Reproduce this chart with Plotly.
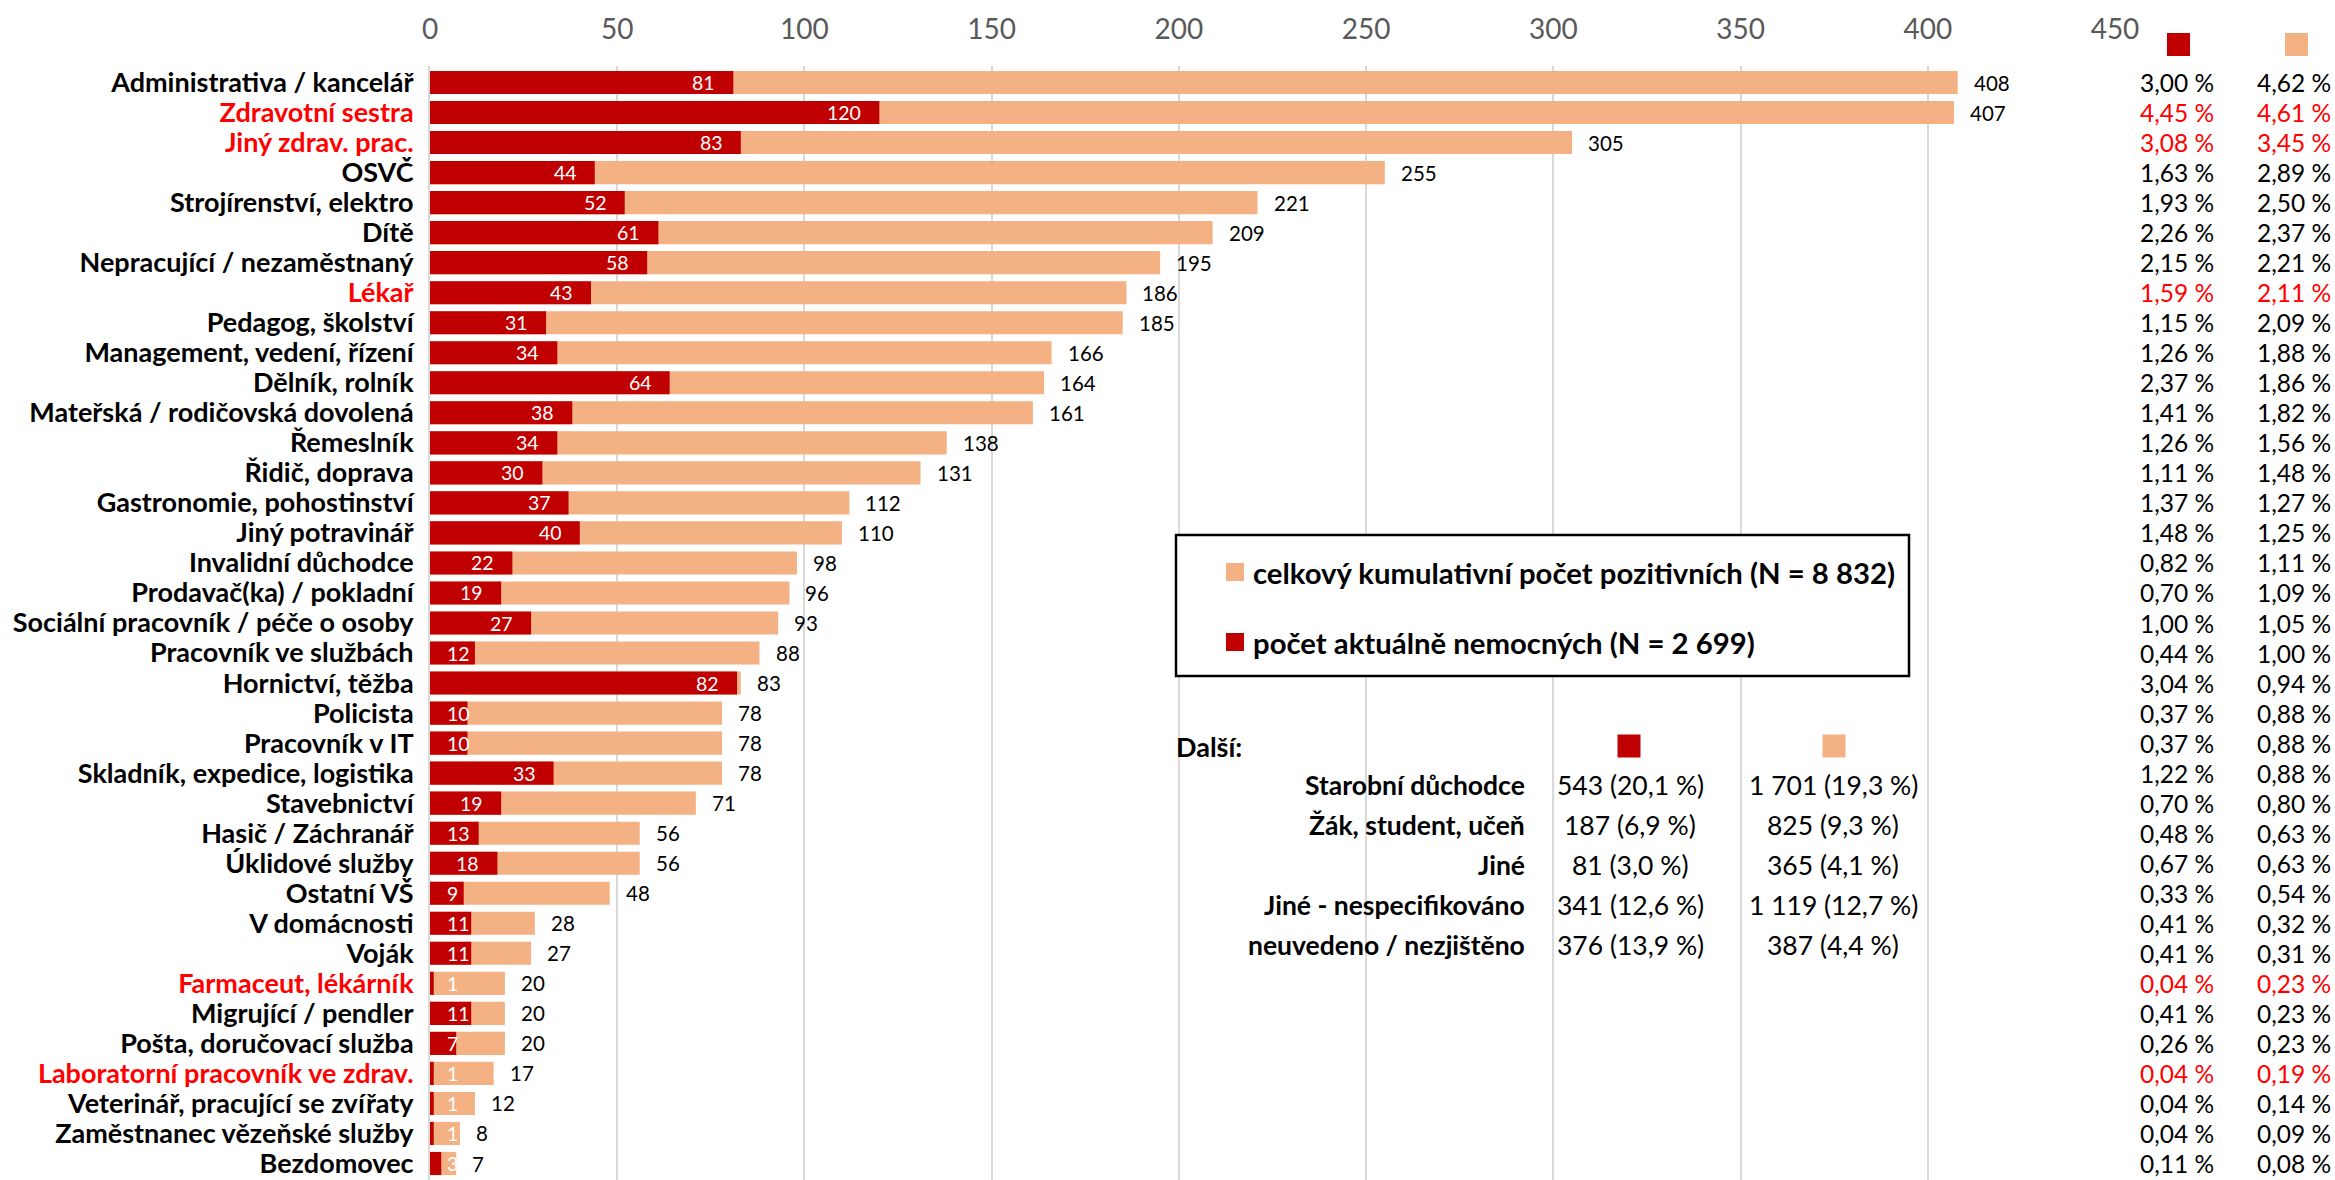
import plotly.graph_objects as go

# Occupation categories (top to bottom) with counts
categories = [
    "Administrativa / kancelář", "Zdravotní sestra", "Jiný zdrav. prac.", "OSVČ",
    "Strojírenství, elektro", "Dítě", "Nepracující / nezaměstnaný", "Lékař",
    "Pedagog, školství", "Management, vedení, řízení", "Dělník, rolník",
    "Mateřská / rodičovská dovolená", "Řemeslník", "Řidič, doprava",
    "Gastronomie, pohostinství", "Jiný potravinář", "Invalidní důchodce",
    "Prodavač(ka) / pokladní", "Sociální pracovník / péče o osoby",
    "Pracovník ve službách", "Hornictví, těžba", "Policista", "Pracovník v IT",
    "Skladník, expedice, logistika", "Stavebnictví", "Hasič / Záchranář",
    "Úklidové služby", "Ostatní VŠ", "V domácnosti", "Voják",
    "Farmaceut, lékárník", "Migrující / pendler", "Pošta, doručovací služba",
    "Laboratorní pracovník ve zdrav.", "Veterinář, pracující se zvířaty",
    "Zaměstnanec vězeňské služby", "Bezdomovec",
]
current_sick = [81, 120, 83, 44, 52, 61, 58, 43, 31, 34, 64, 38, 34, 30, 37, 40, 22,
                19, 27, 12, 82, 10, 10, 33, 19, 13, 18, 9, 11, 11, 1, 11, 7, 1, 1, 1, 3]
cumulative_positive = [408, 407, 305, 255, 221, 209, 195, 186, 185, 166, 164, 161, 138,
                       131, 112, 110, 98, 96, 93, 88, 83, 78, 78, 78, 71, 56, 56, 48, 28,
                       27, 20, 20, 20, 17, 12, 8, 7]
healthcare = {"Zdravotní sestra", "Jiný zdrav. prac.", "Lékař",
              "Farmaceut, lékárník", "Laboratorní pracovník ve zdrav."}

N_CURRENT = 2699
N_TOTAL = 8832

x_ticks = [0, 50, 100, 150, 200, 250, 300, 350, 400, 450]

# Additional groups shown in the side table
other_labels = ["Starobní důchodce", "Žák, student, učeň", "Jiné",
                "Jiné - nespecifikováno", "neuvedeno / nezjištěno"]
other_current = ["543 (20,1 %)", "187 (6,9 %)", "81 (3,0 %)", "341 (12,6 %)", "376 (13,9 %)"]
other_total = ["1 701 (19,3 %)", "825 (9,3 %)", "365 (4,1 %)", "1 119 (12,7 %)", "387 (4,4 %)"]

legend_total = "celkový kumulativní počet pozitivních (N = 8 832)"
legend_current = "počet aktuálně nemocných (N = 2 699)"

DARK_RED = "#C00000"
ORANGE = "#F4B183"
HIGHLIGHT = "#FF0000"
FONT = "Lato"

W, H = 2335, 1180
ML, MR, MT, MB = 430, 220, 66, 0
PW, PH = W - ML - MR, H - MT - MB
X_MAX = 450
PPU = PW / X_MAX  # pixels per data unit


def px(xp):
    return (xp - ML) / PW


def py(yp):
    return 1 - (yp - MT) / PH


fig = go.Figure()
fig.add_trace(go.Bar(
    y=categories, x=cumulative_positive, orientation="h",
    marker=dict(color=ORANGE, line=dict(width=0)), name=legend_total,
    showlegend=False, hoverinfo="x+y",
))
fig.add_trace(go.Bar(
    y=categories, x=current_sick, orientation="h",
    marker=dict(color=DARK_RED, line=dict(width=0)), name=legend_current,
    showlegend=False, hoverinfo="x+y",
))

ann = []
for cat, cur, tot in zip(categories, current_sick, cumulative_positive):
    # total value just past the end of the orange bar
    ann.append(dict(x=tot, y=cat, xref="x", yref="y", text=str(tot), showarrow=False,
                    xanchor="left", xshift=14, font=dict(family=FONT, size=20.5, color="black")))
    # current value inside the end of the red bar (kept off the axis when the bar is short)
    w = 11 * len(str(cur))
    if cur * PPU - 16 - w < 15:
        ann.append(dict(x=0, y=cat, xref="x", yref="y", text=str(cur), showarrow=False,
                        xanchor="left", xshift=15, font=dict(family=FONT, size=19.5, color="white")))
    else:
        ann.append(dict(x=cur, y=cat, xref="x", yref="y", text=str(cur), showarrow=False,
                        xanchor="right", xshift=-16, font=dict(family=FONT, size=19.5, color="white")))
    # share of each total, right-hand columns
    col = HIGHLIGHT if cat in healthcare else "black"
    pc = f"{100 * cur / N_CURRENT:.2f}".replace(".", ",") + " %"
    pt = f"{100 * tot / N_TOTAL:.2f}".replace(".", ",") + " %"
    ann.append(dict(x=px(2216), y=cat, xref="paper", yref="y", text=pc, showarrow=False,
                    xanchor="right", font=dict(family=FONT, size=24.5, color=col)))
    ann.append(dict(x=px(2333), y=cat, xref="paper", yref="y", text=pt, showarrow=False,
                    xanchor="right", font=dict(family=FONT, size=24.5, color=col)))

shapes = []


def square(cx, cy, s, color):
    shapes.append(dict(type="rect", xref="paper", yref="paper",
                       x0=px(cx - s / 2), x1=px(cx + s / 2),
                       y0=py(cy + s / 2), y1=py(cy - s / 2),
                       fillcolor=color, line=dict(width=0), layer="above"))


# column headers for the percentage columns
square(2178.5, 44.5, 23, DARK_RED)
square(2296.5, 44.5, 23, ORANGE)

# legend box
shapes.append(dict(type="rect", xref="paper", yref="paper",
                   x0=px(1176), x1=px(1909), y0=py(676), y1=py(535),
                   fillcolor="white", line=dict(color="black", width=2.5), layer="above"))
square(1235, 572, 18, ORANGE)
square(1235, 642, 18, DARK_RED)
for yy, txt in ((572, legend_total), (642, legend_current)):
    ann.append(dict(x=px(1251), y=py(yy), xref="paper", yref="paper", text=txt,
                    showarrow=False, xanchor="left", yanchor="middle",
                    font=dict(family=FONT, size=29.3, color="black", weight="bold")))

# side table of additional groups, on a white panel over the gridlines
shapes.append(dict(type="rect", xref="paper", yref="paper",
                   x0=px(1168), x1=px(1942), y0=py(963), y1=py(723),
                   fillcolor="white", line=dict(width=0), layer="between"))
ann.append(dict(x=px(1174), y=py(746), xref="paper", yref="paper", text="Další:",
                showarrow=False, xanchor="left", yanchor="middle",
                font=dict(family=FONT, size=27, color="black", weight="bold")))
square(1629, 746, 23, DARK_RED)
square(1834, 746, 23, ORANGE)
row_y = [785, 825, 865, 905, 945]
for yy, lab, vc, vt in zip(row_y, other_labels, other_current, other_total):
    ann.append(dict(x=px(1527), y=py(yy), xref="paper", yref="paper", text=lab,
                    showarrow=False, xanchor="right", yanchor="middle",
                    font=dict(family=FONT, size=26.5, color="black", weight="bold")))
    ann.append(dict(x=px(1630), y=py(yy), xref="paper", yref="paper", text=vc,
                    showarrow=False, xanchor="center", yanchor="middle",
                    font=dict(family=FONT, size=26.5, color="black")))
    ann.append(dict(x=px(1833), y=py(yy), xref="paper", yref="paper", text=vt,
                    showarrow=False, xanchor="center", yanchor="middle",
                    font=dict(family=FONT, size=26.5, color="black")))

tick_text = [f'<span style="color:{HIGHLIGHT}">{c}</span>' if c in healthcare else c
             for c in categories]

fig.update_layout(
    width=W, height=H, autosize=False,
    margin=dict(l=ML, r=MR, t=MT, b=MB, pad=0),
    paper_bgcolor="white", plot_bgcolor="white",
    barmode="overlay", bargap=0.23,
    annotations=ann, shapes=shapes,
    xaxis=dict(
        side="top", range=[0, X_MAX], tickvals=x_ticks, ticktext=[str(t) for t in x_ticks],
        showgrid=True, gridcolor="#D9D9D9", gridwidth=2, zeroline=False,
        ticks="", ticklabelstandoff=20,
        tickfont=dict(family=FONT, size=28, color="#595959"),
        fixedrange=True,
    ),
    yaxis=dict(
        type="category", categoryorder="array", categoryarray=categories,
        autorange="reversed", tickvals=categories, ticktext=tick_text,
        showline=True, linecolor="#D9D9D9", linewidth=2, showgrid=False,
        ticks="", ticklabelstandoff=9,
        tickfont=dict(family=FONT, size=27, color="black", weight="bold"),
        fixedrange=True,
    ),
    showlegend=False,
)

fig.write_html("out.html", config={"displayModeBar": False})
